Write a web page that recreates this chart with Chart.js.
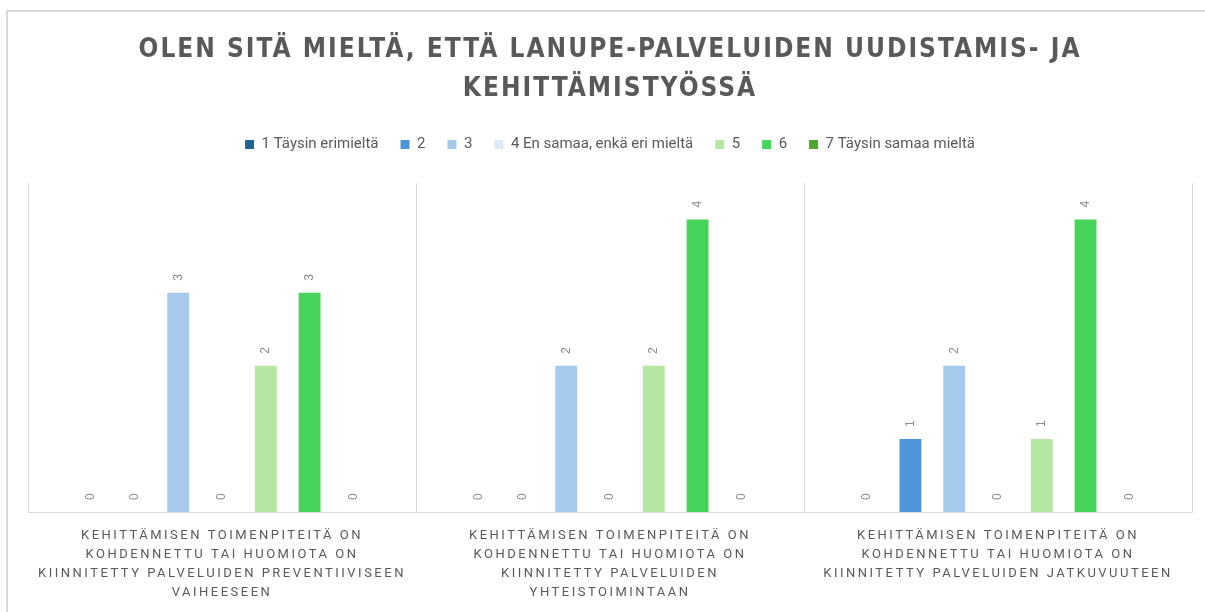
<!DOCTYPE html>
<html>
<head>
<meta charset="utf-8">
<script src="https://cdn.jsdelivr.net/npm/chart.js@4.4.1/dist/chart.umd.min.js"></script>
<style>
  html, body { margin: 0; padding: 0; background: #fff; overflow: hidden; }
  #frame {
    position: absolute; left: 6px; top: 10px; width: 1210px; height: 610px;
    border-left: 2px solid #d9d9d9; border-top: 2px solid #d9d9d9;
  }
  #wrap { position: absolute; left: 7px; top: 11px; width: 1205px; height: 605px; }
</style>
</head>
<body>
<div id="frame"></div>
<div id="wrap"><canvas id="chart"></canvas></div>
<script>
const categories = [
    ['KEHITTÄMISEN TOIMENPITEITÄ ON', 'KOHDENNETTU TAI HUOMIOTA ON', 'KIINNITETTY PALVELUIDEN PREVENTIIVISEEN', 'VAIHEESEEN'],
    ['KEHITTÄMISEN TOIMENPITEITÄ ON', 'KOHDENNETTU TAI HUOMIOTA ON', 'KIINNITETTY PALVELUIDEN', 'YHTEISTOIMINTAAN'],
    ['KEHITTÄMISEN TOIMENPITEITÄ ON', 'KOHDENNETTU TAI HUOMIOTA ON', 'KIINNITETTY PALVELUIDEN JATKUVUUTEEN']
];
const seriesNames = ['1 Täysin erimieltä', '2', '3', '4 En samaa, enkä eri mieltä', '5', '6', '7 Täysin samaa mieltä'];
const seriesColors = ['#1f6391', '#4e95d9', '#a6caec', '#dceaf7', '#b5e6a2', '#47d45a', '#4ea72e'];
const answers1 = [0, 0, 0];
const answers2 = [0, 0, 1];
const answers3 = [3, 2, 2];
const answers4 = [0, 0, 0];
const answers5 = [2, 2, 1];
const answers6 = [3, 4, 4];
const answers7 = [0, 0, 0];
const seriesValues = [answers1, answers2, answers3, answers4, answers5, answers6, answers7];

const titleLines = ['OLEN SITÄ MIELTÄ, ETTÄ LANUPE-PALVELUIDEN UUDISTAMIS- JA', 'KEHITTÄMISTYÖSSÄ'];

// value labels above bars, rotated like in the spreadsheet original
const barValueLabels = {
    id: 'barValueLabels',
    afterDatasetsDraw(chart) {
        const ctx = chart.ctx;
        ctx.save();
        ctx.font = '12px "Liberation Sans", Arial, sans-serif';
        ctx.fillStyle = '#8c8c8c';
        ctx.textAlign = 'left';
        ctx.textBaseline = 'middle';
        chart.data.datasets.forEach((ds, i) => {
            chart.getDatasetMeta(i).data.forEach((bar, j) => {
                ctx.save();
                ctx.translate(bar.x, bar.y - 12);
                ctx.rotate(-Math.PI / 2);
                ctx.fillText(String(ds.data[j]), 0, 0);
                ctx.restore();
            });
        });
        ctx.restore();
    }
};

// letter spacing for title and category labels
function withSpacing(obj, method, spacing) {
    if (!obj || obj['_spaced_' + method]) return;
    const orig = obj[method];
    obj[method] = function (...args) {
        const ctx = this.ctx;
        ctx.letterSpacing = spacing;
        orig.apply(this, args);
        ctx.letterSpacing = '0px';
    };
    obj['_spaced_' + method] = true;
}
const spacedText = {
    id: 'spacedText',
    afterInit(chart) {
        // extra room under the legend
        const legend = chart.legend;
        const fit = legend.fit;
        legend.fit = function () {
            fit.call(this);
            this.height += 21;
        };
    },
    afterLayout(chart) {
        withSpacing(chart.titleBlock, 'draw', '2px');
        withSpacing(chart.scales.x, 'drawLabels', '2.5px');
    }
};

new Chart(document.getElementById('chart'), {
    type: 'bar',
    data: {
        labels: categories,
        datasets: seriesNames.map((name, i) => ({
            label: name,
            data: seriesValues[i],
            backgroundColor: seriesColors[i],
            barPercentage: 0.5,
            categoryPercentage: 0.79
        }))
    },
    options: {
        responsive: true,
        maintainAspectRatio: false,
        animation: false,
        layout: { padding: { left: 21, right: 20, top: 0, bottom: 0 } },
        plugins: {
            title: {
                display: true,
                text: titleLines,
                color: '#595959',
                font: { family: '"DejaVu Sans Condensed", "DejaVu Sans", sans-serif', size: 26, weight: 'bold', lineHeight: 1.5 },
                padding: { top: 20, bottom: 6 }
            },
            legend: {
                position: 'top',
                labels: {
                    color: '#595959',
                    boxWidth: 9,
                    boxHeight: 9,
                    padding: 22,
                    font: { family: 'Roboto, sans-serif', size: 15 }
                }
            },
            tooltip: { enabled: false }
        },
        scales: {
            x: {
                grid: { color: '#d9d9d9', drawTicks: false, offset: true },
                border: { color: '#d9d9d9' },
                ticks: {
                    color: '#595959',
                    maxRotation: 0,
                    autoSkip: false,
                    padding: 14,
                    font: { family: 'Roboto, sans-serif', size: 13, lineHeight: 1.46 }
                }
            },
            y: {
                display: false,
                min: 0,
                max: 4.5
            }
        }
    },
    plugins: [barValueLabels, spacedText]
});
</script>
</body>
</html>
